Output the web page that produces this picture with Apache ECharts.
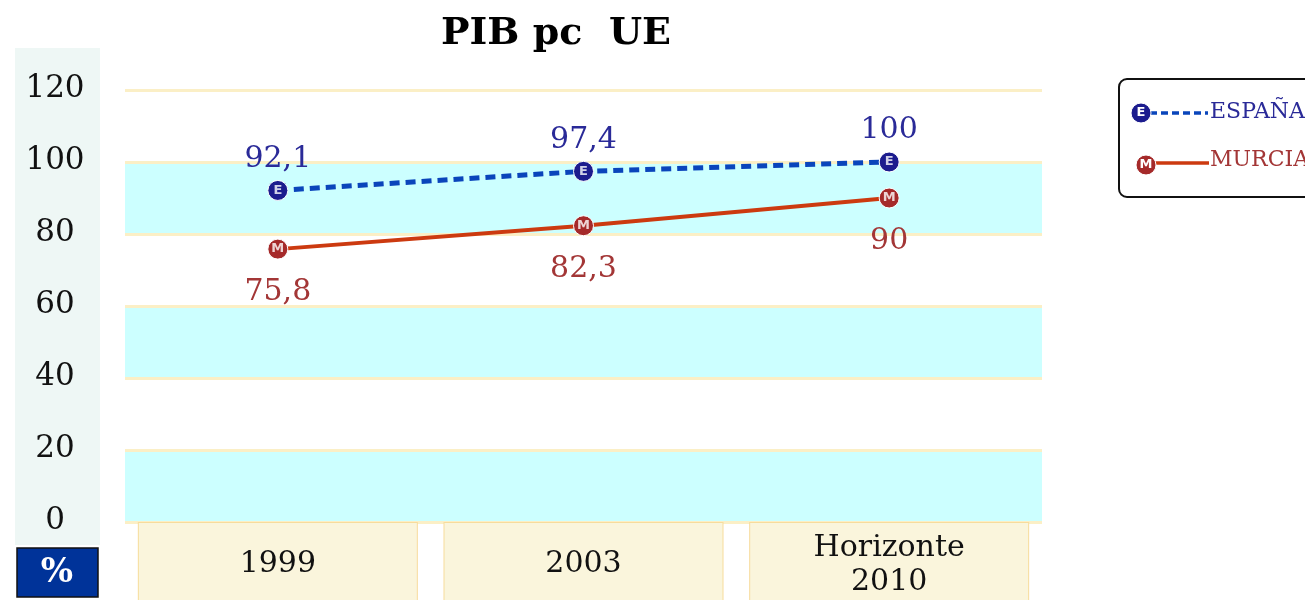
<!DOCTYPE html>
<html>
<head>
<meta charset="utf-8">
<script src="https://cdn.jsdelivr.net/npm/echarts@6/dist/echarts.min.js"></script>
<style>
  html, body { margin: 0; padding: 0; background: #fff; }
  #main { width: 1305px; height: 600px; }
</style>
</head>
<body>
<div id="main"></div>
<script>
  // datos del grafico
  var categories = ["1999", "2003", "Horizonte\n2010"];
  var seriesNames = ["ESPAÑA", "MURCIA"];
  var markerLetters = ["E", "M"];
  var espana = [92.1, 97.4, 100];
  var murcia = [75.8, 82.3, 90];
  var yMin = 0, yMax = 120, yStep = 20;

  var serif = "DejaVu Serif";
  var sans = "DejaVu Sans";
  var colEsp = "#1c1c8e", lineEsp = "#0a45bb", txtEsp = "#2a2a98";
  var colMur = "#a52a2a", lineMur = "#cc3a10", txtMur = "#a33636";

  function coma(v) {
    return String(v).replace(".", ",");
  }

  // cajas de las categorias (una o dos lineas)
  var xData = categories.map(function (c) {
    var twoLines = c.indexOf("\n") >= 0;
    return {
      value: c,
      textStyle: {
        height: twoLines ? 68 : 34,
        padding: twoLines ? [8, 0, 12, 0] : [24, 0, 30, 0]
      }
    };
  });

  var chart = echarts.init(document.getElementById("main"));

  chart.setOption({
    animation: false,
    title: {
      text: "PIB pc  UE",
      left: 551,
      textAlign: "center",
      top: 10,
      textStyle: { fontFamily: serif, fontWeight: "bold", fontSize: 38, color: "#000" }
    },
    grid: { left: 125, right: 263, top: 90, bottom: 78, outerBoundsMode: "none", containLabel: false },
    xAxis: {
      type: "category",
      data: xData,
      axisLine: { show: false },
      axisTick: { show: false },
      axisLabel: {
        margin: 1,
        width: 278,
        lineHeight: 34,
        align: "center",
        fontFamily: serif,
        fontSize: 30,
        color: "#111",
        backgroundColor: "#faf5dc",
        borderColor: "#f7dc9c",
        borderWidth: 1
      }
    },
    yAxis: {
      type: "value",
      min: yMin,
      max: yMax,
      interval: yStep,
      axisLine: { show: false },
      axisTick: { show: false },
      axisLabel: {
        margin: 70,
        align: "center",
        verticalAlign: "bottom",
        padding: [0, 0, -14, 0],
        fontFamily: serif,
        fontSize: 31,
        color: "#111"
      },
      splitLine: { lineStyle: { color: "#fbefc6", width: 3 } },
      splitArea: { show: true, areaStyle: { color: ["#ccffff", "#ffffff"] } }
    },
    graphic: [
      // columna de la escala
      { type: "rect", z: -10, shape: { x: 15, y: 48, width: 85, height: 497 }, style: { fill: "#eef7f5" } },
      { type: "rect", shape: { x: 17, y: 548, width: 81, height: 49 }, style: { fill: "#003399", stroke: "#111", lineWidth: 1.5 } },
      { type: "text", x: 57, y: 573, style: { text: "%", fill: "#fff", font: "bold 34px " + serif, align: "center", verticalAlign: "middle" } },
      // leyenda
      { type: "rect", shape: { x: 1119, y: 79, width: 200, height: 118, r: 8 }, style: { fill: "#fff", stroke: "#111", lineWidth: 2 } },
      { type: "line", shape: { x1: 1150, y1: 113, x2: 1208, y2: 113 }, style: { stroke: lineEsp, lineWidth: 3.5, lineDash: [7, 4] } },
      { type: "circle", shape: { cx: 1141, cy: 113, r: 10 }, style: { fill: colEsp, stroke: "#fff", lineWidth: 1 } },
      { type: "text", x: 1141, y: 113, style: { text: markerLetters[0], fill: "#fff", font: "bold 13px " + sans, align: "center", verticalAlign: "middle" } },
      { type: "text", x: 1210, y: 112, style: { text: seriesNames[0], fill: txtEsp, font: "22px " + serif, verticalAlign: "middle" } },
      { type: "line", shape: { x1: 1154, y1: 163, x2: 1209, y2: 163 }, style: { stroke: lineMur, lineWidth: 3.5 } },
      { type: "circle", shape: { cx: 1146, cy: 165, r: 10 }, style: { fill: colMur, stroke: "#fff", lineWidth: 1 } },
      { type: "text", x: 1146, y: 165, style: { text: markerLetters[1], fill: "#fff", font: "bold 13px " + sans, align: "center", verticalAlign: "middle" } },
      { type: "text", x: 1210, y: 160, style: { text: seriesNames[1], fill: txtMur, font: "22px " + serif, verticalAlign: "middle" } }
    ],
    series: [
      {
        name: seriesNames[0],
        type: "line",
        data: espana,
        symbol: "circle",
        symbolSize: 20,
        itemStyle: { color: colEsp, borderColor: "#fff", borderWidth: 1 },
        lineStyle: { color: lineEsp, width: 5, type: [10, 6] },
        label: {
          show: true,
          position: "top",
          distance: 6,
          fontFamily: serif,
          fontSize: 30,
          color: txtEsp,
          formatter: function (p) { return coma(p.value); }
        },
        z: 3
      },
      {
        name: seriesNames[1],
        type: "line",
        data: murcia,
        symbol: "circle",
        symbolSize: 20,
        itemStyle: { color: colMur, borderColor: "#fff", borderWidth: 1 },
        lineStyle: { color: lineMur, width: 4 },
        label: {
          show: true,
          position: "bottom",
          distance: 18,
          fontFamily: serif,
          fontSize: 30,
          color: txtMur,
          formatter: function (p) { return coma(p.value); }
        },
        z: 3
      },
      {
        type: "scatter",
        data: espana,
        symbolSize: 20,
        silent: true,
        itemStyle: { color: "transparent" },
        label: { show: true, position: "inside", formatter: markerLetters[0], color: "#fff", fontFamily: sans, fontWeight: "bold", fontSize: 13 },
        z: 5
      },
      {
        type: "scatter",
        data: murcia,
        symbolSize: 20,
        silent: true,
        itemStyle: { color: "transparent" },
        label: { show: true, position: "inside", formatter: markerLetters[1], color: "#fff", fontFamily: sans, fontWeight: "bold", fontSize: 13 },
        z: 5
      }
    ]
  });
</script>
</body>
</html>
